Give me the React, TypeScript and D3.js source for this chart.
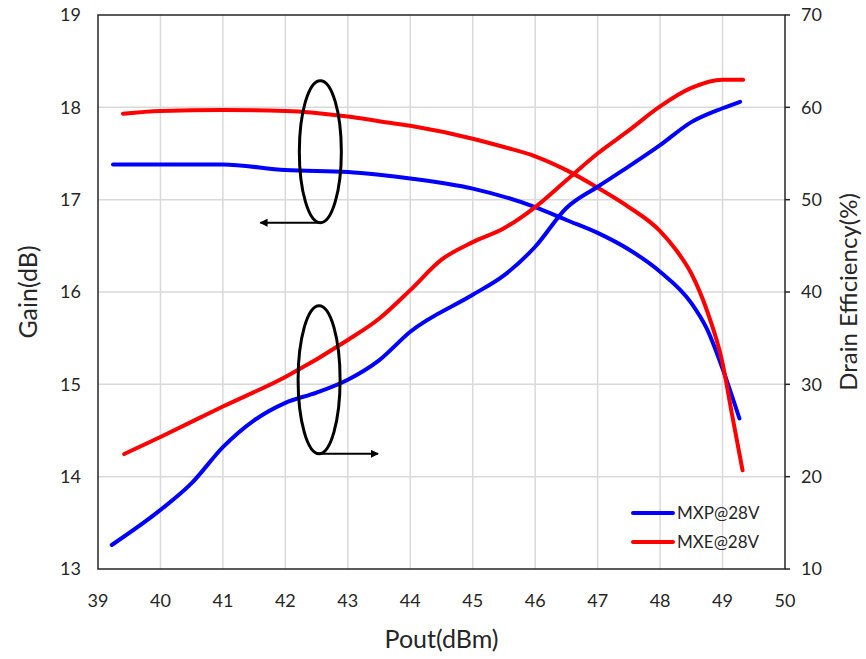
import * as d3 from "d3";

// Pout (dBm) sample points
const mxpGainX = [39.24, 40, 41, 42, 43, 43.5, 44, 45, 46, 46.5, 47, 47.5, 48, 48.5, 48.75, 49, 49.27];
const mxpGain = [17.38, 17.38, 17.38, 17.32, 17.3, 17.27, 17.23, 17.12, 16.92, 16.78, 16.64, 16.46, 16.22, 15.88, 15.6, 15.17, 14.63];

const mxeGainX = [39.4, 40, 41, 42, 43, 43.5, 44, 45, 45.5, 46, 46.5, 47, 47.5, 48, 48.25, 48.5, 48.75, 49, 49.15, 49.32];
const mxeGain = [17.93, 17.96, 17.97, 17.96, 17.9, 17.85, 17.8, 17.66, 17.57, 17.47, 17.32, 17.13, 16.92, 16.66, 16.46, 16.2, 15.8, 15.23, 14.68, 14.07];

const mxpEffX = [39.22, 40, 40.5, 41, 41.5, 42, 42.5, 43, 43.5, 44, 45, 45.5, 46, 46.5, 47, 47.5, 48, 48.5, 49, 49.28];
const mxpEff = [12.6, 16.4, 19.3, 23.2, 26.1, 28.0, 29.1, 30.5, 32.6, 35.7, 39.7, 41.8, 44.9, 49.1, 51.4, 53.6, 55.9, 58.4, 59.9, 60.6];

const mxeEffX = [39.42, 40, 41, 42, 43, 43.5, 44, 44.5, 45, 45.5, 46, 46.5, 47, 47.5, 48, 48.5, 49, 49.33];
const mxeEff = [22.45, 24.3, 27.6, 30.8, 34.8, 37.1, 40.2, 43.5, 45.4, 46.9, 49.2, 52.1, 55.0, 57.5, 60.1, 62.1, 63.0, 63.0];

const xTicks = d3.range(39, 51);
const gainTicks = d3.range(13, 20);
const effTicks = d3.range(10, 80, 10);

const legendNames = ["MXP@28V", "MXE@28V"];
const colors = ["#0000ff", "#ff0000"];

const W = 866, H = 659;
const margin = { top: 15, right: 81, bottom: 90, left: 98 };
const FONT = "Lato, 'Open Sans', sans-serif";

export default function App() {
  const x = d3.scaleLinear().domain([39, 50]).range([margin.left, W - margin.right]);
  const yL = d3.scaleLinear().domain([13, 19]).range([H - margin.bottom, margin.top]);
  const yR = d3.scaleLinear().domain([10, 70]).range([H - margin.bottom, margin.top]);

  const lineOf = (xs: number[], ys: number[], y: d3.ScaleLinear<number, number>) =>
    d3.line<number>().x((_, i) => x(xs[i])).y(d => y(d)).curve(d3.curveMonotoneX)(ys) || "";

  const series = [
    { d: lineOf(mxpGainX, mxpGain, yL), c: colors[0] },
    { d: lineOf(mxeGainX, mxeGain, yL), c: colors[1] },
    { d: lineOf(mxpEffX, mxpEff, yR), c: colors[0] },
    { d: lineOf(mxeEffX, mxeEff, yR), c: colors[1] },
  ];

  const [x0, x1] = x.range();
  const [yb, yt] = yL.range();

  // annotation ellipses
  const e1 = { cx: x(42.56), cy: yL(17.52), rx: 21, ry: 71 };
  const e2 = { cx: x(42.54), cy: yL(15.05), rx: 21, ry: 74 };

  return (
    <svg width={W} height={H} style={{ position: "absolute", left: 0, top: 0, background: "#fff" }} fontFamily={FONT}>
      <defs>
        <marker id="ah" viewBox="0 0 10 10" refX="9" refY="5" markerWidth="4" markerHeight="4" orient="auto-start-reverse">
          <path d="M0,0 L10,5 L0,10 z" fill="#000" />
        </marker>
      </defs>
      {/* grid */}
      {xTicks.slice(1, -1).map(t => (
        <line key={"gx" + t} x1={x(t)} x2={x(t)} y1={yt} y2={yb} stroke="#d9d9d9" strokeWidth={1.5} />
      ))}
      {gainTicks.slice(1, -1).map(t => (
        <line key={"gy" + t} x1={x0} x2={x1} y1={yL(t)} y2={yL(t)} stroke="#d9d9d9" strokeWidth={1.5} />
      ))}
      {/* frame */}
      <rect x={x0} y={yt} width={x1 - x0} height={yb - yt} fill="none" stroke="#262626" strokeWidth={1.5} />
      {effTicks.map(t => (
        <line key={"rt" + t} x1={x1} x2={x1 + 5} y1={yR(t)} y2={yR(t)} stroke="#262626" strokeWidth={1.5} />
      ))}

      {series.map((s, i) => (
        <path key={i} d={s.d} fill="none" stroke={s.c} strokeWidth={4} strokeLinecap="round" strokeLinejoin="round" />
      ))}

      {/* annotations */}
      {[e1, e2].map((e, i) => (
        <ellipse key={"e" + i} cx={e.cx} cy={e.cy} rx={e.rx} ry={e.ry} fill="none" stroke="#000" strokeWidth={3} />
      ))}
      <line x1={e1.cx} y1={e1.cy + e1.ry} x2={e1.cx - 60} y2={e1.cy + e1.ry} stroke="#000" strokeWidth={2} markerEnd="url(#ah)" />
      <line x1={e2.cx} y1={e2.cy + e2.ry} x2={e2.cx + 59} y2={e2.cy + e2.ry} stroke="#000" strokeWidth={2} markerEnd="url(#ah)" />

      {/* tick labels */}
      {gainTicks.map(t => (
        <text key={"lt" + t} x={x0 - 17} y={yL(t)} dy="0.35em" textAnchor="end" fontSize={18} fill="#262626">{t}</text>
      ))}
      {effTicks.map(t => (
        <text key={"rl" + t} x={x1 + 16} y={yR(t)} dy="0.35em" textAnchor="start" fontSize={18} fill="#262626">{t}</text>
      ))}
      {xTicks.map(t => (
        <text key={"xt" + t} x={x(t)} y={yb + 38} textAnchor="middle" fontSize={18} fill="#262626">{t}</text>
      ))}

      {/* axis titles */}
      <text x={(x0 + x1) / 2} y={H - 11} textAnchor="middle" fontSize={25} fill="#262626">Pout(dBm)</text>
      <text transform={`translate(37,${(yt + yb) / 2}) rotate(-90)`} textAnchor="middle" fontSize={25} fill="#262626">Gain(dB)</text>
      <text transform={`translate(857,${(yt + yb) / 2}) rotate(-90)`} textAnchor="middle" fontSize={24} fill="#262626">Drain Efficiency(%)</text>

      {/* legend */}
      {legendNames.map((n, i) => (
        <g key={n} transform={`translate(633,${513 + i * 29})`}>
          <line x1={0} x2={40} y1={0} y2={0} stroke={colors[i]} strokeWidth={4} strokeLinecap="round" />
          <text x={44} y={0} dy="0.35em" fontSize={17} fill="#262626">{n}</text>
        </g>
      ))}
    </svg>
  );
}
